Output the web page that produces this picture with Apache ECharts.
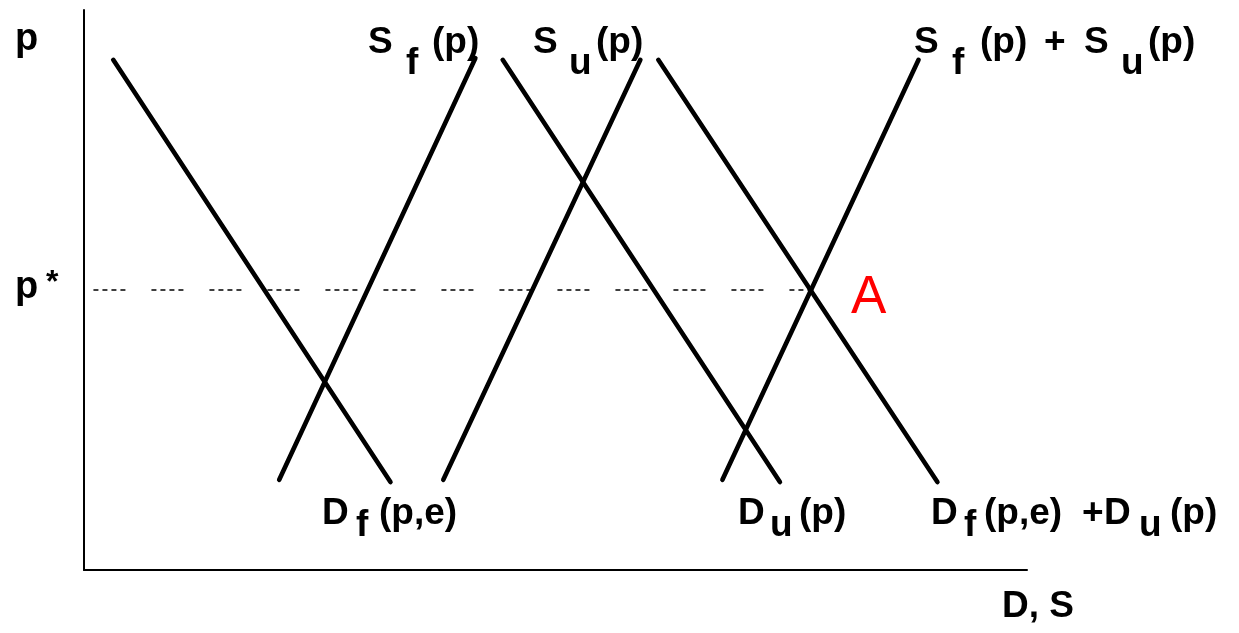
<!DOCTYPE html>
<html>
<head>
<meta charset="utf-8">
<script src="https://cdn.jsdelivr.net/npm/echarts@6/dist/echarts.min.js"></script>
<style>
  body { margin: 0; background: #fff; }
  #main { width: 1239px; height: 633px; }
</style>
</head>
<body>
<div id="main"></div>
<script>
    // curves as [quantity, price] end points, axes run 0..100
    const demandF = [[3.1, 91.1], [32.5, 15.7]];
    const supplyF = [[20.7, 16.1], [41.5, 91.4]];
    const supplyU = [[38.1, 16.1], [59.0, 91.1]];
    const demandU = [[44.4, 91.1], [73.8, 15.7]];
    const demandSum = [[60.9, 91.1], [90.5, 15.7]];
    const supplySum = [[67.7, 16.1], [88.5, 91.1]];
    const pStar = 50;
    const pStarLine = [[1, pStar], [77, pStar]];

    const font = "'Liberation Sans', Arial, sans-serif";

    // text piece placed by its baseline
    function piece(x, base, text, size, opts) {
        opts = opts || {};
        return {
            type: 'text',
            silent: true,
            style: {
                x: x,
                y: base - 0.3 * size,
                text: text,
                fill: opts.color || '#000',
                font: (opts.weight || 'bold') + ' ' + size + 'px ' + font,
                align: 'left',
                verticalAlign: 'middle'
            }
        };
    }

    // parts: [text, x, subscript?]
    function label(base, subBase, parts) {
        return parts.map(function (p) {
            return piece(p[1], p[2] ? subBase : base, p[0], 37);
        });
    }

    let texts = [];
    texts.push(piece(15, 51, 'p', 38));
    texts.push(piece(15, 299, 'p', 38));
    texts.push(piece(46, 293, '*', 32));
    texts = texts.concat(label(54, 75, [['S', 368], ['f', 406, true], ['(p)', 432]]));
    texts = texts.concat(label(54, 75, [['S', 533], ['u', 569, true], ['(p)', 596]]));
    texts = texts.concat(label(54, 75, [['S', 914], ['f', 952, true], ['(p)', 980],
        ['+', 1044], ['S', 1084], ['u', 1121, true], ['(p)', 1148]]));
    texts = texts.concat(label(525, 537, [['D', 322], ['f', 356, true], ['(p,e)', 379]]));
    texts = texts.concat(label(525, 537, [['D', 738], ['u', 770, true], ['(p)', 799]]));
    texts = texts.concat(label(525, 537, [['D', 931], ['f', 964, true], ['(p,e)', 984],
        ['+', 1082], ['D', 1104], ['u', 1139, true], ['(p)', 1170]]));
    texts.push(piece(1002, 618, 'D, S', 37));
    texts.push(piece(851, 314, 'A', 53, {weight: 'normal', color: '#ff0000'}));

    function curve(data) {
        return {
            type: 'line',
            data: data,
            symbol: 'none',
            silent: true,
            lineStyle: {color: '#000', width: 4.6, cap: 'round'}
        };
    }

    let myChart = echarts.init(document.getElementById('main'));
    myChart.setOption({
        animation: false,
        backgroundColor: '#fff',
        grid: {left: 84, top: 10, width: 943, height: 560},
        xAxis: {
            type: 'value', min: 0, max: 100,
            axisLine: {lineStyle: {color: '#000', width: 2}},
            axisTick: {show: false}, axisLabel: {show: false}, splitLine: {show: false}
        },
        yAxis: {
            type: 'value', min: 0, max: 100,
            axisLine: {show: true, lineStyle: {color: '#000', width: 2}},
            axisTick: {show: false}, axisLabel: {show: false}, splitLine: {show: false}
        },
        series: [
            {
                type: 'line',
                data: pStarLine,
                symbol: 'none',
                silent: true,
                lineStyle: {color: '#000', width: 1.5, type: [5, 4, 5, 4, 5, 4, 5, 26]}
            },
            curve(demandF),
            curve(supplyF),
            curve(supplyU),
            curve(demandU),
            curve(demandSum),
            curve(supplySum)
        ],
        graphic: texts
    });
</script>
</body>
</html>
